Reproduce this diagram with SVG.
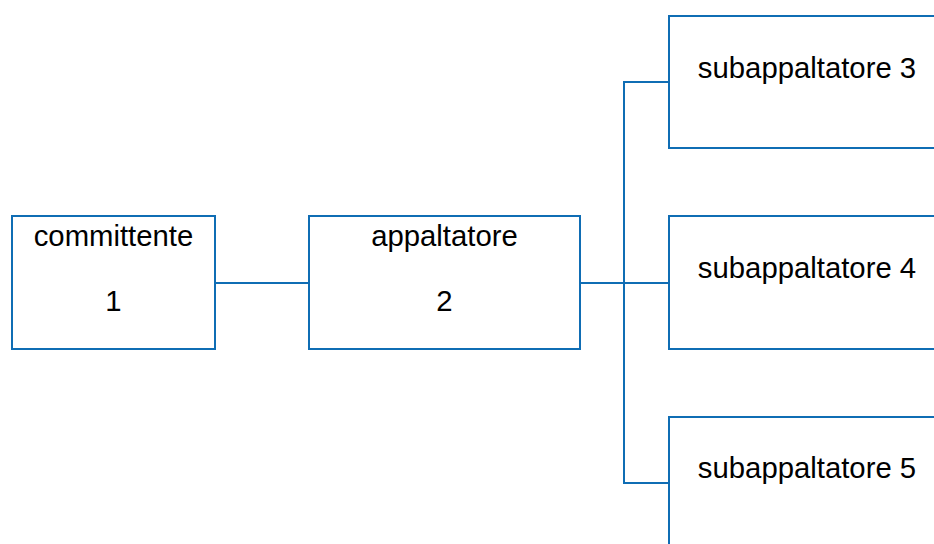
<svg xmlns="http://www.w3.org/2000/svg" width="934" height="544" viewBox="0 0 934 544">
<style>
.box{fill:#fff;stroke:#0f6db4;stroke-width:2}
.ln{fill:none;stroke:#0f6db4;stroke-width:2}
text{font-family:"Liberation Sans",Arial,sans-serif;font-size:29.3px;fill:#000;text-anchor:middle}
</style>
<rect width="934" height="544" fill="#fff"/>
<g id="connectors">
<line class="ln" x1="215" y1="283" x2="309" y2="283"/>
<line class="ln" x1="580" y1="283" x2="669" y2="283"/>
<polyline class="ln" points="669,82 624,82 624,483 669,483"/>
</g>
<g id="committente">
<rect class="box" x="12" y="216" width="203" height="133"/>
<text x="113.5" y="246">committente</text>
<text x="113.5" y="311">1</text>
</g>
<g id="appaltatore">
<rect class="box" x="309" y="216" width="271" height="133"/>
<text x="444.5" y="246">appaltatore</text>
<text x="444.5" y="311">2</text>
</g>
<g id="sub3">
<rect class="box" x="669" y="16" width="280" height="132"/>
<text x="807" y="78">subappaltatore 3</text>
</g>
<g id="sub4">
<rect class="box" x="669" y="216" width="280" height="133"/>
<text x="807" y="278">subappaltatore 4</text>
</g>
<g id="sub5">
<rect class="box" x="669" y="417" width="280" height="140"/>
<text x="807" y="478">subappaltatore 5</text>
</g>
</svg>
